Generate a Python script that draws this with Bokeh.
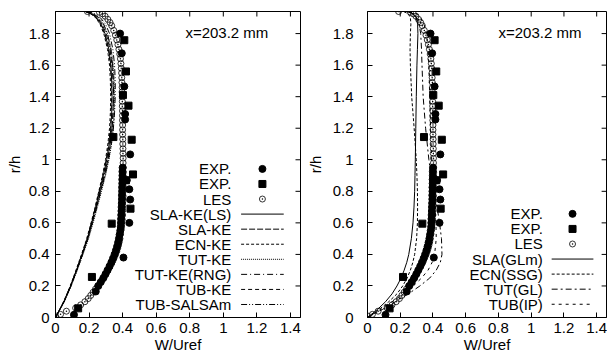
from bokeh.plotting import figure
from bokeh.models import Range1d, FixedTicker, Label
from bokeh.layouts import row
from bokeh.embed import file_html
from bokeh.resources import INLINE

# ---------------- data ----------------
x_ticks = [0, 0.2, 0.4, 0.6, 0.8, 1.0, 1.2, 1.4]
x_tick_labels = ["0", "0.2", "0.4", "0.6", "0.8", "1", "1.2", "1.4"]
y_ticks = [0, 0.2, 0.4, 0.6, 0.8, 1.0, 1.2, 1.4, 1.6, 1.8]
y_tick_labels = ["0", "0.2", "0.4", "0.6", "0.8", "1", "1.2", "1.4", "1.6", "1.8"]

# EXP. (filled circles)
exp1_w = [0.11, 0.24, 0.405, 0.44, 0.445, 0.44, 0.425, 0.445, 0.415, 0.415, 0.41, 0.395, 0.385,
          0.255, 0.27, 0.285, 0.298, 0.31, 0.322, 0.333, 0.343, 0.352, 0.36, 0.367, 0.373, 0.378,
          0.382, 0.386, 0.389, 0.39, 0.391, 0.392, 0.393, 0.394, 0.395, 0.396, 0.396, 0.397, 0.397,
          0.398, 0.398, 0.399, 0.399, 0.4]
exp1_r = [0.017, 0.165, 0.38, 0.6, 0.748, 0.813, 0.87, 1.034, 1.255, 1.29, 1.465, 1.675, 1.8,
          0.2, 0.225, 0.25, 0.275, 0.3, 0.325, 0.35, 0.375, 0.4, 0.425, 0.45, 0.475, 0.5,
          0.525, 0.55, 0.575, 0.6, 0.625, 0.65, 0.675, 0.7, 0.725, 0.75, 0.775, 0.8, 0.825,
          0.85, 0.875, 0.9, 0.925, 0.95]
# EXP. (filled squares)
exp2_w = [0.135, 0.217, 0.335, 0.447, 0.42, 0.462, 0.345, 0.454, 0.435, 0.402, 0.42, 0.41]
exp2_r = [0.058, 0.257, 0.595, 0.69, 0.87, 0.907, 1.144, 1.127, 1.343, 1.41, 1.56, 1.758]

# LES (open circles)
les_r = [0.01, 0.02, 0.04, 0.06, 0.08, 0.10,
         0.12, 0.14, 0.16, 0.18, 0.20, 0.22, 0.24, 0.26, 0.28, 0.30,
         0.32, 0.34, 0.36, 0.38, 0.40, 0.42, 0.44, 0.46, 0.48, 0.50,
         0.53, 0.56, 0.59, 0.62, 0.65, 0.68, 0.71, 0.74, 0.77, 0.80,
         0.83, 0.86, 0.89, 0.92, 0.95, 0.98, 1.01, 1.04, 1.07, 1.10,
         1.13, 1.16, 1.19, 1.22, 1.25, 1.28, 1.31, 1.34, 1.37, 1.40,
         1.43, 1.46, 1.49, 1.52, 1.55, 1.58, 1.61, 1.64, 1.67, 1.70,
         1.73, 1.76, 1.79, 1.82, 1.85,
         1.87, 1.89, 1.91, 1.925, 1.935, 1.94]
les_w = [0.0, 0.03, 0.065, 0.12, 0.15, 0.175,
         0.195, 0.21, 0.224, 0.238, 0.252, 0.266, 0.279, 0.291, 0.302, 0.313,
         0.323, 0.333, 0.342, 0.35, 0.358, 0.365, 0.371, 0.376, 0.38, 0.384,
         0.388, 0.392, 0.395, 0.398, 0.4, 0.401, 0.402, 0.403, 0.403, 0.404,
         0.404, 0.404, 0.404, 0.404, 0.404, 0.403, 0.403, 0.402, 0.402, 0.401,
         0.401, 0.4, 0.4, 0.4, 0.399, 0.399, 0.399, 0.398, 0.398, 0.398,
         0.397, 0.397, 0.396, 0.395, 0.394, 0.392, 0.39, 0.387, 0.383, 0.378,
         0.372, 0.365, 0.357, 0.347, 0.335,
         0.325, 0.312, 0.296, 0.28, 0.262, 0.19]

# left panel: linear eddy-viscosity models
r_left = [0, 0.1, 0.2, 0.3, 0.4, 0.5, 0.6, 0.7, 0.8, 0.9, 1.0, 1.1, 1.2, 1.3, 1.4, 1.5, 1.6,
          1.7, 1.8, 1.86, 1.9, 1.925, 1.94, 1.94]
w_sla_ke_ls = [0, 0.05, 0.09, 0.125, 0.158, 0.19, 0.215, 0.24, 0.262, 0.285, 0.305, 0.32, 0.33,
               0.335, 0.337, 0.335, 0.33, 0.318, 0.295, 0.272, 0.245, 0.215, 0.18, 0.0]
w_sla_ke = [0, 0.052, 0.092, 0.128, 0.161, 0.193, 0.219, 0.245, 0.268, 0.292, 0.312, 0.327, 0.338,
            0.343, 0.345, 0.343, 0.337, 0.325, 0.302, 0.278, 0.25, 0.22, 0.185, 0.0]
w_ecn_ke = [0, 0.048, 0.088, 0.122, 0.155, 0.186, 0.212, 0.236, 0.258, 0.28, 0.298, 0.312, 0.322,
            0.327, 0.329, 0.327, 0.322, 0.31, 0.288, 0.265, 0.24, 0.21, 0.175, 0.0]
w_tut_ke = [0, 0.053, 0.094, 0.13, 0.164, 0.197, 0.224, 0.25, 0.274, 0.298, 0.318, 0.334, 0.345,
            0.35, 0.352, 0.35, 0.344, 0.332, 0.31, 0.285, 0.256, 0.225, 0.19, 0.0]
w_tut_rng = [0, 0.05, 0.091, 0.127, 0.16, 0.192, 0.218, 0.243, 0.266, 0.29, 0.31, 0.326, 0.337,
             0.343, 0.346, 0.345, 0.34, 0.33, 0.31, 0.287, 0.26, 0.228, 0.19, 0.0]
w_tub_ke = [0, 0.049, 0.089, 0.124, 0.157, 0.188, 0.214, 0.238, 0.26, 0.283, 0.302, 0.317, 0.327,
            0.332, 0.334, 0.332, 0.327, 0.315, 0.292, 0.268, 0.242, 0.212, 0.178, 0.0]
w_tub_salsa = [0, 0.05, 0.09, 0.126, 0.16, 0.192, 0.22, 0.246, 0.27, 0.295, 0.316, 0.333, 0.345,
               0.352, 0.356, 0.356, 0.352, 0.342, 0.322, 0.298, 0.268, 0.235, 0.195, 0.0]

# right panel: Reynolds-stress models
r_right = [0, 0.05, 0.1, 0.15, 0.2, 0.25, 0.3, 0.35, 0.4, 0.5, 0.6, 0.7, 0.8, 0.9, 1.0, 1.2,
           1.4, 1.6, 1.7, 1.8, 1.86, 1.9, 1.925, 1.94, 1.94]
w_sla_glm = [0, 0.06, 0.11, 0.15, 0.18, 0.205, 0.224, 0.24, 0.252, 0.268, 0.278, 0.284, 0.288,
             0.29, 0.292, 0.295, 0.298, 0.302, 0.305, 0.308, 0.306, 0.298, 0.28, 0.24, 0.0]
w_ecn_ssg = [0, 0.07, 0.13, 0.18, 0.215, 0.242, 0.262, 0.277, 0.288, 0.3, 0.305, 0.306, 0.305,
             0.302, 0.298, 0.285, 0.27, 0.262, 0.26, 0.262, 0.265, 0.262, 0.25, 0.22, 0.0]
w_tut_gl = [0, 0.09, 0.17, 0.25, 0.32, 0.38, 0.42, 0.445, 0.455, 0.452, 0.44, 0.425, 0.405,
            0.388, 0.375, 0.355, 0.34, 0.333, 0.33, 0.325, 0.315, 0.3, 0.28, 0.24, 0.0]
w_tub_ip = [0, 0.08, 0.15, 0.22, 0.28, 0.33, 0.37, 0.395, 0.41, 0.42, 0.418, 0.412, 0.405,
            0.398, 0.392, 0.385, 0.38, 0.375, 0.37, 0.36, 0.345, 0.325, 0.3, 0.25, 0.0]

left_series = [("SLA-KE(LS)", w_sla_ke_ls, "solid"),
               ("SLA-KE", w_sla_ke, "6 2"),
               ("ECN-KE", w_ecn_ke, "3 2"),
               ("TUT-KE", w_tut_ke, "1 1"),
               ("TUT-KE(RNG)", w_tut_rng, "6 3 1 3"),
               ("TUB-KE", w_tub_ke, "4 3"),
               ("TUB-SALSAm", w_tub_salsa, "6 2 1 2 1 2")]
right_series = [("SLA(GLm)", w_sla_glm, "solid"),
                ("ECN(SSG)", w_ecn_ssg, "3 2"),
                ("TUT(GL)", w_tut_gl, "6 3 2 3"),
                ("TUB(IP)", w_tub_ip, "3 4")]

FONT = "Liberation Sans"
FS = "15px"
X_MAX = 1.46
Y_MAX = 1.94
FIG_H = 356
BORDER_TOP = 11
BORDER_BOTTOM = 39
FRAME_W = 245
TICK_PX = 5


def make_fig(width, left_border, right_border, y_standoff, y_label_standoff, series, r_vals,
             title_x, leg_text_x, leg_line_x0, leg_line_x1, leg_top):
    p = figure(width=width, height=FIG_H, x_range=Range1d(0, X_MAX), y_range=Range1d(0, Y_MAX),
               output_backend="svg", toolbar_location=None,
               min_border_left=left_border, min_border_right=right_border,
               min_border_top=BORDER_TOP, min_border_bottom=BORDER_BOTTOM)
    p.grid.visible = False
    p.outline_line_color = "black"
    p.outline_line_width = 1
    p.background_fill_color = "white"
    p.border_fill_color = "white"

    xo = {t: l for t, l in zip(x_ticks, x_tick_labels)}
    yo = {t: l for t, l in zip(y_ticks, y_tick_labels)}
    for ax, ticks, ov in ((p.xaxis[0], x_ticks, xo), (p.yaxis[0], y_ticks, yo)):
        ax.ticker = FixedTicker(ticks=ticks)
        ax.major_label_overrides = ov
        ax.major_tick_in = TICK_PX
        ax.major_tick_out = 0
        ax.minor_tick_line_color = None
        ax.axis_line_color = "black"
        ax.major_tick_line_color = "black"
        ax.major_label_text_font = FONT
        ax.major_label_text_font_size = FS
        ax.major_label_text_color = "black"
        ax.axis_label_text_font = FONT
        ax.axis_label_text_font_size = FS
        ax.axis_label_text_font_style = "normal"
        ax.axis_label_text_color = "black"
    p.xaxis[0].major_label_standoff = 5
    p.xaxis[0].axis_label_standoff = 0
    p.yaxis[0].major_label_standoff = y_standoff
    p.yaxis[0].axis_label_standoff = y_label_standoff
    p.xaxis[0].axis_label = "W/Uref"
    p.yaxis[0].axis_label = "r/h"

    # mirrored inward ticks on top and right (gnuplot style)
    frame_h = FIG_H - BORDER_TOP - BORDER_BOTTOM
    dy = TICK_PX * Y_MAX / frame_h
    dx = TICK_PX * X_MAX / FRAME_W
    p.segment(x0=x_ticks, y0=[Y_MAX] * len(x_ticks), x1=x_ticks, y1=[Y_MAX - dy] * len(x_ticks),
              line_color="black", line_width=1)
    p.segment(x0=[X_MAX] * len(y_ticks), y0=y_ticks, x1=[X_MAX - dx] * len(y_ticks), y1=y_ticks,
              line_color="black", line_width=1)

    # model lines
    for name, w, dash in series:
        p.line(w, r_vals, line_color="black", line_width=1, line_dash=dash)

    # data markers
    p.scatter(les_w, les_r, marker="circle_dot", size=6, fill_color=None,
              line_color="black", line_width=0.8)
    p.scatter(exp1_w, exp1_r, marker="circle", size=7, fill_color="black", line_color="black")
    p.scatter(exp2_w, exp2_r, marker="square", size=7, fill_color="black", line_color="black")

    p.add_layout(Label(x=title_x, y=1.81, text="x=203.2 mm", text_font=FONT,
                       text_font_size=FS, text_baseline="middle", text_color="black"))

    # legend (gnuplot style: text right-aligned, sample to the right)
    step = 0.0955
    entries = [("EXP.", "circle"), ("EXP.", "square"), ("LES", "les")] + \
              [(n, d) for n, _, d in series]
    xm = (leg_line_x0 + leg_line_x1) / 2
    for i, (name, kind) in enumerate(entries):
        yy = leg_top - i * step
        p.add_layout(Label(x=leg_text_x, y=yy, text=name, text_font=FONT, text_font_size=FS,
                           text_align="right", text_baseline="middle", text_color="black"))
        if kind == "circle":
            p.scatter([xm], [yy], marker="circle", size=7, fill_color="black", line_color="black")
        elif kind == "square":
            p.scatter([xm], [yy], marker="square", size=7, fill_color="black", line_color="black")
        elif kind == "les":
            p.scatter([xm], [yy], marker="circle_dot", size=6, fill_color=None,
                      line_color="black", line_width=0.8)
        else:
            p.line([leg_line_x0, leg_line_x1], [yy, yy], line_color="black", line_width=1,
                   line_dash=kind)
    return p


p1 = make_fig(303, 55, 3, 6, 3, left_series, r_left, 0.774, 1.048, 1.106, 1.36, 0.942)
p2 = make_fig(304, 58, 1, 14, 6, right_series, r_right, 0.80, 1.071, 1.125, 1.38, 0.657)
p = row(p1, p2)

open("out.html", "w").write(file_html(p, INLINE))
